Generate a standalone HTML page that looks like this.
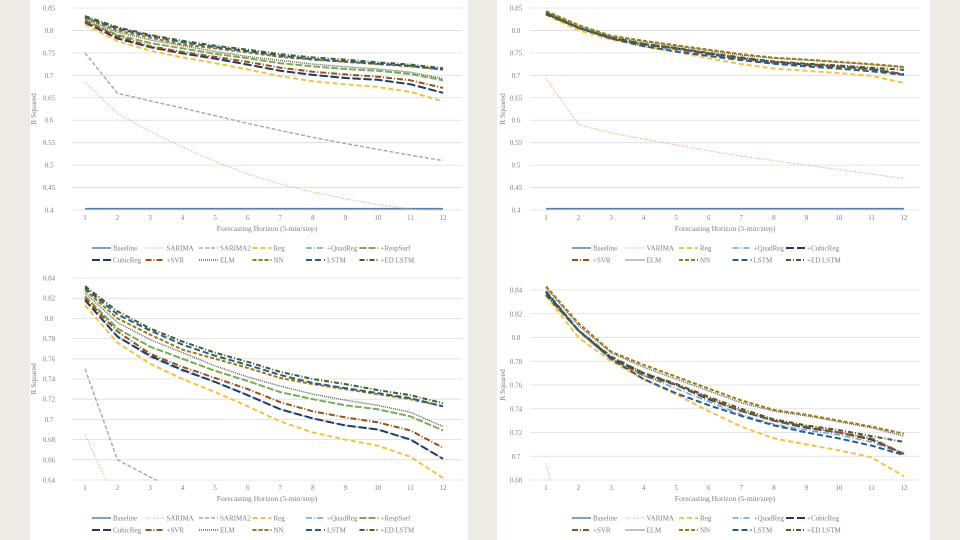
<!DOCTYPE html>
<html><head><meta charset="utf-8">
<style>
html,body{margin:0;padding:0;width:960px;height:540px;overflow:hidden;background:#eeebe5;}
svg{display:block;font-family:"Liberation Serif",serif;overflow:hidden;}
</style></head>
<body>
<svg id="root" width="960" height="540" viewBox="0 0 960 540">
<defs id="defs"></defs>
<rect x="30" y="0" width="438" height="540" fill="#ffffff"/>
<rect x="497" y="0" width="433" height="540" fill="#ffffff"/>
</svg>
<script>
const horizons = [1,2,3,4,5,6,7,8,9,10,11,12];
const leftNames = ["Baseline","SARIMA","SARIMA2","Reg","+QuadReg","+RespSurf","CubicReg","+SVR","ELM","NN","LSTM","+ED LSTM"];
const rightNames = ["Baseline","VARIMA","Reg","+QuadReg","+CubicReg","+SVR","ELM","NN","LSTM","+ED LSTM"];
const lBaseline = [0.403,0.403,0.403,0.403,0.403,0.403,0.403,0.403,0.403,0.403,0.403,0.403];
const lSarima = [0.685,0.615,0.575,0.54,0.508,0.48,0.458,0.44,0.425,0.412,0.402,0.398];
const lSarima2 = [0.75,0.66,0.643,0.627,0.61,0.593,0.577,0.562,0.548,0.535,0.522,0.51];
const lReg = [0.813,0.776,0.755,0.74,0.727,0.713,0.698,0.687,0.68,0.674,0.663,0.642];
const lQuad = [0.82,0.782,0.762,0.748,0.737,0.724,0.71,0.701,0.694,0.69,0.68,0.661];
const lResp = [0.822,0.79,0.772,0.76,0.748,0.738,0.727,0.72,0.714,0.71,0.703,0.689];
const lCubic = [0.818,0.782,0.763,0.749,0.737,0.724,0.71,0.701,0.694,0.69,0.68,0.661];
const lSvr = [0.82,0.787,0.765,0.752,0.741,0.73,0.717,0.708,0.702,0.697,0.689,0.672];
const lElm = [0.825,0.796,0.779,0.766,0.753,0.742,0.733,0.725,0.719,0.714,0.707,0.693];
const lNn = [0.828,0.8,0.784,0.769,0.76,0.751,0.741,0.735,0.73,0.725,0.72,0.713];
const lLstm = [0.83,0.804,0.788,0.774,0.763,0.754,0.744,0.736,0.731,0.726,0.721,0.713];
const lEd = [0.832,0.807,0.79,0.777,0.766,0.757,0.747,0.74,0.735,0.729,0.724,0.716];
const rBaseline = [0.403,0.403,0.403,0.403,0.403,0.403,0.403,0.403,0.403,0.403,0.403,0.403];
const rVarima = [0.694,0.59,0.572,0.558,0.545,0.532,0.52,0.51,0.5,0.49,0.48,0.47];
const rReg = [0.835,0.8,0.78,0.765,0.752,0.738,0.725,0.715,0.71,0.705,0.699,0.683];
const rQuad = [0.838,0.805,0.782,0.768,0.757,0.746,0.735,0.727,0.722,0.718,0.712,0.702];
const rCubic = [0.838,0.806,0.783,0.77,0.76,0.748,0.738,0.73,0.724,0.72,0.714,0.702];
const rSvr = [0.836,0.806,0.782,0.768,0.76,0.749,0.738,0.73,0.725,0.72,0.715,0.702];
const rElm = [0.842,0.81,0.787,0.775,0.765,0.755,0.745,0.738,0.734,0.729,0.724,0.717];
const rNn = [0.843,0.812,0.788,0.777,0.767,0.757,0.747,0.739,0.735,0.73,0.725,0.719];
const rLstm = [0.839,0.806,0.782,0.765,0.753,0.743,0.734,0.726,0.72,0.715,0.709,0.701];
const rEd = [0.836,0.806,0.784,0.77,0.761,0.75,0.74,0.731,0.726,0.722,0.717,0.712];
const leftSeries = [lBaseline,lSarima,lSarima2,lReg,lQuad,lResp,lCubic,lSvr,lElm,lNn,lLstm,lEd];
const rightSeries = [rBaseline,rVarima,rReg,rQuad,rCubic,rSvr,rElm,rNn,rLstm,rEd];
const tlTicks = ["0.4","0.45","0.5","0.55","0.6","0.65","0.7","0.75","0.8","0.85"];
const blTicks = ["0.64","0.66","0.68","0.7","0.72","0.74","0.76","0.78","0.8","0.82","0.84"];
const brTicks = ["0.68","0.7","0.72","0.74","0.76","0.78","0.8","0.82","0.84"];

const STY = {
 "Baseline":["#5a7fa8","",1.6],
 "SARIMA":["#e3a77a","1,1.5",1.1],"VARIMA":["#e3a77a","1,1.5",1.1],
 "SARIMA2":["#a8a8a8","4,2",1.4],
 "Reg":["#f2c443","5,3",2],
 "+QuadReg":["#6b9fd3","6,2,1,2",1.5],
 "+RespSurf":["#79ad55","7,2",2],
 "CubicReg":["#223a63","8,3",2],"+CubicReg":["#223a63","8,3",2],
 "+SVR":["#9a4f1c","6,2,1,2",2],
 "ELM":["#5f5f5f","1,1",1.4],
 "NN":["#9c7a16","4,2",2],
 "LSTM":["#2a5d8c","6,3",2],
 "+ED LSTM":["#435f2c","5,2,1,2",2]
};
const NS="http://www.w3.org/2000/svg";
const root=document.getElementById('root');
const defs=document.getElementById('defs');
function mk(tag,attrs,parent){const e=document.createElementNS(NS,tag);for(const k in attrs)e.setAttribute(k,attrs[k]);(parent||root).appendChild(e);return e;}

function chart(id,c){
 const g=mk('g',{});
 
 
 const ymin=parseFloat(c.ticks[0]),ymax=parseFloat(c.ticks[c.ticks.length-1]);
 const yS=v=>c.bot-(v-ymin)/(ymax-ymin)*(c.bot-c.top);
 const xS=h=>c.x1+(h-1)/11*(c.x12-c.x1);
 c.ticks.forEach(t=>{
  const y=yS(parseFloat(t));
  const ln=mk('line',{x1:c.pl,x2:c.pr,y1:y,y2:y,stroke:'#dcdcdc','stroke-width':0.8},g);
  
  
  const tx=mk('text',{x:c.lx,y:y+2.5,'font-size':7,fill:'#7f7f7f','text-anchor':'middle'},g);
  tx.textContent=t;
  
  
 });
 horizons.forEach(h=>{
  const tx=mk('text',{x:xS(h),y:c.bot+10,'font-size':7,fill:'#7f7f7f','text-anchor':'middle'},g);
  tx.textContent=h;
  
  
 });
 const xt=mk('text',{x:(c.pl+c.pr)/2,y:c.bot+21,'font-size':7.5,fill:'#7f7f7f','text-anchor':'middle'},g);
 xt.textContent='Forecasting Horizon  (5-min/step)';
 
 
 const yt=mk('text',{x:0,y:0,'font-size':7.5,fill:'#7f7f7f','text-anchor':'middle',transform:`translate(${c.tx},${(c.top+c.bot)/2}) rotate(-90)`},g);
 yt.textContent='R Squared';
 
 
 const cp=mk('clipPath',{id:id+'-clip'},defs);
 mk('rect',{x:c.pl,y:c.top-6,width:c.pr-c.pl,height:c.bot-c.top+6.5},cp);
 c.series.forEach((s,i)=>{
  const st=STY[c.names[i]];
  const d=s.map((v,j)=>(j?'L':'M')+xS(horizons[j]).toFixed(1)+','+yS(v).toFixed(1)).join('');
  const p=mk('path',{d:d,fill:'none',stroke:st[0],'stroke-width':st[2],'stroke-dasharray':st[1],'clip-path':`url(#${id}-clip)`},g);
  
  
 });
 c.names.forEach((n,i)=>{
  const per=c.perRow,row=Math.floor(i/per),col=i%per;
  const lx=c.legX+col*53.5,ly=c.legY+row*12;
  const st=STY[n];
  const e=mk('g',{},g);
  
  
  mk('line',{x1:lx,x2:lx+19,y1:ly,y2:ly,stroke:st[0],'stroke-width':st[2],'stroke-dasharray':st[1]},e);
  const t=mk('text',{x:lx+21,y:ly+2.5,'font-size':7,fill:'#7f7f7f'},e);
  t.textContent=n;
 });
}
chart('chart-top-left',{pl:72,pr:462,top:8,bot:210,x1:85,x12:443,lx:49,tx:36,ticks:tlTicks,series:leftSeries,names:leftNames,legX:92,legY:248,perRow:6});
chart('chart-bottom-left',{pl:72,pr:462,top:278,bot:480,x1:85,x12:443,lx:49,tx:36,ticks:blTicks,series:leftSeries,names:leftNames,legX:92,legY:518,perRow:6});
chart('chart-top-right',{pl:530,pr:920,top:8,bot:210,x1:546,x12:904,lx:516,tx:505,ticks:tlTicks,series:rightSeries,names:rightNames,legX:572,legY:248,perRow:5});
chart('chart-bottom-right',{pl:530,pr:920,top:290,bot:480,x1:546,x12:904,lx:516,tx:505,ticks:brTicks,series:rightSeries,names:rightNames,legX:572,legY:518,perRow:5});
</script>
</body></html>
